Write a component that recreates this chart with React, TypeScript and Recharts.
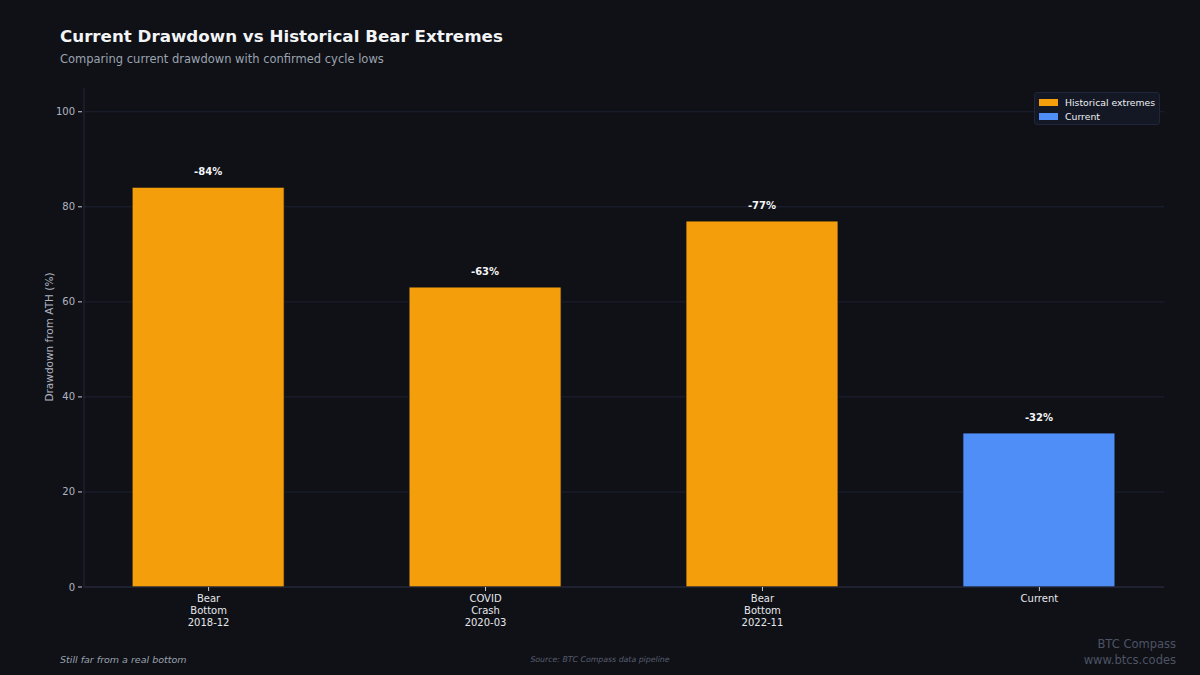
import React from 'react';
import { BarChart, Bar, XAxis, YAxis, CartesianGrid, Cell, LabelList } from 'recharts';

const categories = ['Bear\nBottom\n2018-12', 'COVID\nCrash\n2020-03', 'Bear\nBottom\n2022-11', 'Current'];
const drawdowns = [84.1, 63.1, 77.0, 32.4];
const kinds = ['hist', 'hist', 'hist', 'current'];
const yTicks = [0, 20, 40, 60, 80, 100];
const yMax = 105;
const legendItems = [
  { label: 'Historical extremes', kind: 'hist' },
  { label: 'Current', kind: 'current' },
];

const COLORS: Record<string, string> = { hist: '#f59e0b', current: '#4f8ef7' };
const BG = '#0f1117';
const FONT = '"DejaVu Sans", sans-serif';

const data = categories.map((c, i) => ({ x: i, name: c, value: drawdowns[i], kind: kinds[i] }));

const XTick = (props: any) => {
  const { x, y, payload } = props;
  const lines = String(categories[payload.value] ?? '').split('\n');
  return (
    <g>
      <line x1={x} x2={x} y1={y - 8} y2={y - 4} stroke="#c8ccd6" strokeWidth={1} />
      <text x={x} y={y + 7} textAnchor="middle" fill="#e5e7eb" fontSize={10} fontFamily={FONT}>
        {lines.map((l, i) => (
          <tspan key={i} x={x} dy={i === 0 ? 0 : 12}>{l}</tspan>
        ))}
      </text>
    </g>
  );
};

const YTick = (props: any) => {
  const { x, y, payload } = props;
  return (
    <g>
      <line x1={x + 2} x2={x + 6} y1={y} y2={y} stroke="#c8ccd6" strokeWidth={1} />
      <text x={x - 1} y={y + 3.5} textAnchor="end" fill="#b0b4c0" fontSize={10} fontFamily={FONT}>
        {payload.value}
      </text>
    </g>
  );
};

const ValueLabel = (props: any) => {
  const { x, y, width, value } = props;
  return (
    <text x={x + width / 2} y={y - 12} textAnchor="middle" fill="#f3f4f6" fontSize={10} fontWeight="bold" fontFamily={FONT}>
      {`-${Math.round(value)}%`}
    </text>
  );
};

const LegendBox = () => (
  <div style={{
    position: 'absolute', left: 1034, top: 92, width: 126, height: 33, boxSizing: 'border-box',
    background: '#141824', border: '1px solid #20263a', borderRadius: 3, padding: '2px 0 0 4px',
    fontFamily: FONT, fontSize: 9.3, color: '#eef0f4', whiteSpace: 'nowrap',
  }}>
    {legendItems.map((it) => (
      <div key={it.label} style={{ display: 'flex', alignItems: 'center', height: 14.5 }}>
        <span style={{ display: 'inline-block', width: 19, height: 7, background: COLORS[it.kind], marginRight: 7, flexShrink: 0 }} />
        <span>{it.label}</span>
      </div>
    ))}
  </div>
);

export default function App() {
  return (
    <div style={{ position: 'absolute', left: 0, top: 0, width: 1200, height: 675, background: BG, overflow: 'hidden' }}>
      <div style={{ position: 'absolute', left: 60, top: 26, fontFamily: FONT, fontSize: 16.7, fontWeight: 'bold', color: '#f3f4f6', whiteSpace: 'nowrap' }}>
        Current Drawdown vs Historical Bear Extremes
      </div>
      <div style={{ position: 'absolute', left: 60, top: 52, fontFamily: FONT, fontSize: 11.5, color: '#9ca3af', whiteSpace: 'nowrap' }}>
        Comparing current drawdown with confirmed cycle lows
      </div>
      <div style={{
        position: 'absolute', left: 49, top: 337, fontFamily: FONT, fontSize: 10.5, color: '#b0b4c0', whiteSpace: 'nowrap',
        transform: 'translate(-50%, -50%) rotate(-90deg)',
      }}>
        Drawdown from ATH (%)
      </div>
      <BarChart width={1200} height={675} data={data} margin={{ top: 88, right: 36, bottom: 0, left: 44 }}>
        <CartesianGrid
          vertical={false}
          stroke="#1e2232"
          strokeWidth={1}
          horizontalCoordinatesGenerator={({ offset }: any) =>
            yTicks.map((t) => offset.top + offset.height * (1 - t / yMax))
          }
        />
        <XAxis
          dataKey="x"
          type="number"
          domain={[-0.45, 3.45]}
          ticks={[0, 1, 2, 3]}
          tick={<XTick />}
          tickLine={false}
          axisLine={{ stroke: '#262a3c' }}
          allowDataOverflow
          height={88}
        />
        <YAxis
          type="number"
          domain={[0, yMax]}
          ticks={yTicks}
          tick={<YTick />}
          tickLine={false}
          axisLine={{ stroke: '#262a3c' }}
          width={40}
        />
        <Bar dataKey="value" barSize={152} isAnimationActive={false} stroke="#0f1117" strokeWidth={0.8}>
          {data.map((d, i) => (
            <Cell key={i} fill={COLORS[d.kind]} />
          ))}
          <LabelList dataKey="value" content={<ValueLabel />} />
        </Bar>
      </BarChart>
      <LegendBox />
      <div style={{ position: 'absolute', left: 60, top: 654, fontFamily: FONT, fontSize: 9.5, fontStyle: 'italic', color: '#9ca3af', whiteSpace: 'nowrap' }}>
        Still far from a real bottom
      </div>
      <div style={{ position: 'absolute', left: 600, top: 655, transform: 'translateX(-50%)', fontFamily: FONT, fontSize: 7.8, fontStyle: 'italic', color: '#5a5f70', whiteSpace: 'nowrap' }}>
        Source: BTC Compass data pipeline
      </div>
      <div style={{ position: 'absolute', right: 24, top: 636, textAlign: 'right', fontFamily: FONT, fontSize: 11.5, color: '#4e5364', lineHeight: '16px', whiteSpace: 'nowrap' }}>
        <div>BTC Compass</div>
        <div>www.btcs.codes</div>
      </div>
    </div>
  );
}
